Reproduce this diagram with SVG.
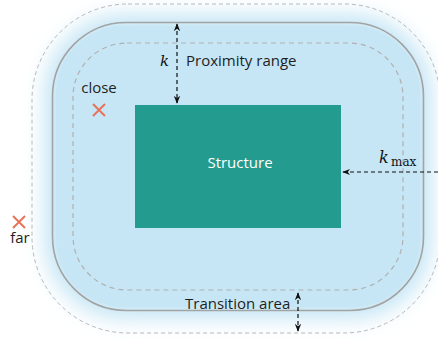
<svg xmlns="http://www.w3.org/2000/svg" width="438" height="340" viewBox="0 0 438 340">
<defs>
<style>
.lbl{font-family:"Open Sans","Liberation Sans",sans-serif;font-size:15px;fill:#1e1e1e}
.math{font-family:"DejaVu Serif","Liberation Serif",serif;font-style:italic;font-size:15px;fill:#111}
.sub{font-family:"DejaVu Serif","Liberation Serif",serif;font-size:12px;fill:#111}
.dim{stroke:#111;stroke-width:1.2;stroke-dasharray:4 3;fill:none;marker-start:url(#ah);marker-end:url(#ah)}
.cross{stroke:#e8735a;stroke-width:2;fill:none}
</style>
<marker id="ah" viewBox="0 0 10 10" refX="9" refY="5" markerWidth="8" markerHeight="8" orient="auto-start-reverse" markerUnits="userSpaceOnUse">
<path d="M0,1 L10,5 L0,9 L3,5 Z" fill="#111"/>
</marker>
<filter id="blur" x="-20%" y="-20%" width="140%" height="140%">
<feGaussianBlur stdDeviation="10"/>
</filter>
</defs>
<rect width="438" height="340" fill="#fff"/>
<g id="zones">
<rect x="44" y="14" width="388" height="305" rx="80" fill="#c6e6f5" filter="url(#blur)"/>
<rect x="56" y="26" width="364" height="281" rx="68" fill="#c6e6f5"/>
<rect x="32" y="4" width="408" height="329" rx="96" fill="none" stroke="#b8b8b8" stroke-width="1" stroke-dasharray="4 3"/>
<rect x="52.5" y="22.5" width="371" height="288" rx="74" fill="none" stroke="#a3a3a3" stroke-width="1.6"/>
<rect x="73" y="43" width="330" height="247" rx="54" fill="none" stroke="#b0b0b0" stroke-width="1.2" stroke-dasharray="5 4"/>
</g>
<g id="structure">
<rect x="135" y="105" width="206" height="123" fill="#239b8e"/>
<text x="240" y="168" text-anchor="middle" style="font-family:'Open Sans','Liberation Sans',sans-serif;font-size:15px;fill:#fff">Structure</text>
</g>
<g id="connectors">
<line class="dim" x1="177" y1="24" x2="177" y2="103"/>
<line class="dim" x1="343" y1="172" x2="445" y2="172"/>
<line class="dim" x1="298" y1="293" x2="298" y2="331"/>
</g>
<g id="labels">
<text class="math" x="160" y="66">k</text>
<text class="lbl" x="186" y="66">Proximity range</text>
<text class="math" x="379" y="163" style="font-size:16px">k</text><text class="sub" x="391" y="166">max</text>
<text class="lbl" x="185" y="309">Transition area</text>
</g>
<g id="close">
<text class="lbl" x="99" y="93" text-anchor="middle">close</text>
<path class="cross" d="M93,104 L105,116 M105,104 L93,116"/>
</g>
<g id="far">
<path class="cross" d="M13,216 L25,228 M25,216 L13,228"/>
<text class="lbl" x="20" y="243" text-anchor="middle">far</text>
</g>
</svg>
